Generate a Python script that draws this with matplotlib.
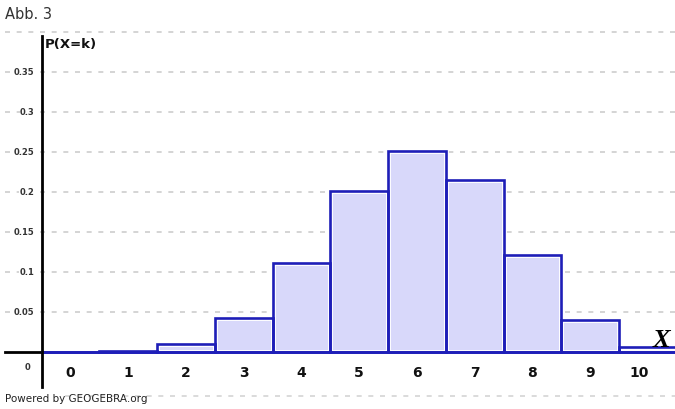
import matplotlib
matplotlib.use("Agg")
import matplotlib.pyplot as plt

# data
k_values = [0, 1, 2, 3, 4, 5, 6, 7, 8, 9, 10]
probabilities = [0.0001, 0.0016, 0.0106, 0.0425, 0.1115, 0.2007, 0.2508, 0.2150, 0.1209, 0.0403, 0.0060]
y_ticks = [0.05, 0.1, 0.15, 0.2, 0.25, 0.3, 0.35]
y_tick_labels = ["0.05", "0.1", "0.15", "0.2", "0.25", "0.3", "0.35"]
grid_levels = [0.05, 0.1, 0.15, 0.2, 0.25, 0.3, 0.35, 0.4]

fig = plt.figure(figsize=(6.75, 4.10), dpi=100)
ax = fig.add_axes([0, 0, 1, 1])
ax.set_xlim(-1.221, 10.468)
ax.set_ylim(-0.07125, 0.44125)
ax.axis("off")

# dashed grid lines
for g in grid_levels:
    ax.plot([-1.14, 10.468], [g, g], color="#cdcdcd", lw=1.2, ls=(0, (3, 4)), zorder=0)
ax.plot([-0.1, 10.468], [-0.055, -0.055], color="#d4d4d4", lw=1.2, ls=(0, (3, 4)), zorder=0)

# axes lines
ax.plot([-1.14, 10.468], [0, 0], color="black", lw=2.0, zorder=1)
ax.plot([-0.502, -0.502], [-0.044, 0.395], color="black", lw=2.0, zorder=4)

# bars
ax.bar(k_values, probabilities, width=1.0, color="#d8d8fa", edgecolor="white",
       linewidth=3.5, zorder=2)
ax.bar(k_values, probabilities, width=1.0, color="none", edgecolor="#1e1eb8",
       linewidth=1.9, zorder=3)
ax.plot([-0.5, 10.468], [0, 0], color="#1e1eb8", lw=2.0, zorder=3)

# y tick labels
for t, lab in zip(y_ticks, y_tick_labels):
    ax.text(-0.62, t, lab, ha="right", va="center", fontsize=6, fontweight="bold",
            color="#333333", zorder=5,
            bbox=dict(boxstyle="square,pad=0.05", fc="white", ec="none"))
ax.text(-0.70, -0.018, "0", ha="right", va="center", fontsize=6, fontweight="bold", color="#333333")

# x tick labels
for k in k_values:
    xpos = k if k < 10 else 9.85
    ax.text(xpos, -0.0245, str(k), ha="center", va="center", fontsize=10,
            fontweight="bold", color="#111111")

# axis titles and annotations
ax.text(-0.44, 0.385, "P(X=k)", ha="left", va="center", fontsize=9.5, fontweight="bold", color="#111111")
ax.text(10.08, 0.016, "X", ha="left", va="center", fontsize=19, style="italic",
        fontweight="bold", family="Liberation Serif", color="black", zorder=6)
ax.text(-1.14, 0.423, "Abb. 3", ha="left", va="center", fontsize=10.5, color="#333333")
ax.text(-1.14, -0.057, "Powered by GEOGEBRA.org", ha="left", va="center", fontsize=7.5, color="#222222")

fig.savefig("out.png", dpi=100)
